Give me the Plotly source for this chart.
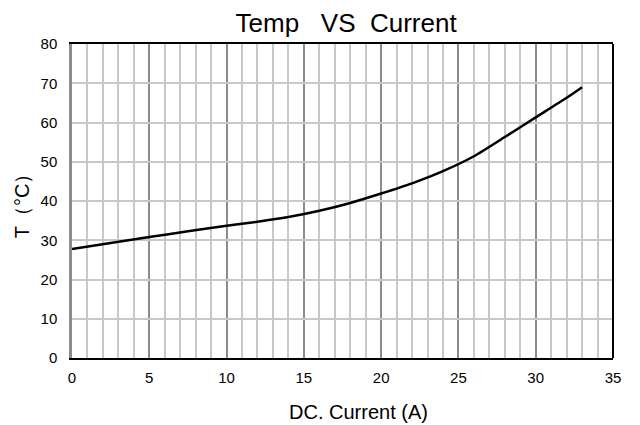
import plotly.graph_objects as go

current = [0, 2.5, 5, 7.5, 10, 12, 14, 16, 18, 20, 22, 24, 26, 28, 30, 32, 33]
temp = [27.8, 29.3, 30.8, 32.3, 33.7, 34.7, 35.9, 37.5, 39.5, 41.9, 44.5, 47.6, 51.4, 56.3, 61.3, 66.3, 69.0]

x_ticks = [0, 5, 10, 15, 20, 25, 30, 35]
y_ticks = [0, 10, 20, 30, 40, 50, 60, 70, 80]

FONT = "Liberation Sans, Arial, sans-serif"

fig = go.Figure()
fig.add_trace(go.Scatter(
    x=current, y=temp, mode="lines",
    line=dict(color="black", width=2.5, shape="spline", smoothing=0.6),
    showlegend=False,
))

fig.update_layout(
    width=632, height=417,
    margin=dict(l=64, r=27, t=36, b=67),
    paper_bgcolor="white", plot_bgcolor="white",
    font=dict(family=FONT, color="black"),
    title=dict(text="Temp   VS  Current", x=0.535, xanchor="center", y=0.985, yanchor="top",
               font=dict(size=26, family=FONT, color="black")),
    xaxis=dict(
        range=[0, 35], tickvals=x_ticks, ticktext=[str(v) for v in x_ticks],
        showgrid=True, gridcolor="#8c8c8c", gridwidth=1.5,
        minor=dict(dtick=1, showgrid=True, gridcolor="#c8c8c8", gridwidth=2, ticks=""),
        showline=True, mirror=True, linecolor="black", linewidth=2,
        ticks="", tickfont=dict(size=15), zeroline=False, ticklabelstandoff=5,
        automargin=False,
    ),
    yaxis=dict(
        range=[0, 80], tickvals=y_ticks, ticktext=[str(v) for v in y_ticks],
        showgrid=True, gridcolor="#c8c8c8", gridwidth=2,
        showline=True, linecolor="#8c8c8c", linewidth=2.5,
        ticks="", tickfont=dict(size=15), zeroline=False, ticklabelstandoff=9,
        automargin=False,
        title=dict(text="T（°C）", font=dict(size=20), standoff=6),
    ),
)

fig.add_annotation(text="DC. Current (A)", xref="paper", yref="paper", x=0.529, y=-0.172,
                   xanchor="center", yanchor="middle", showarrow=False,
                   font=dict(size=20, family=FONT, color="black"))

fig.add_shape(type="line", xref="x domain", yref="y domain", x0=1, x1=1, y0=0, y1=1,
              line=dict(color="black", width=2))

fig.write_html("out.html")
